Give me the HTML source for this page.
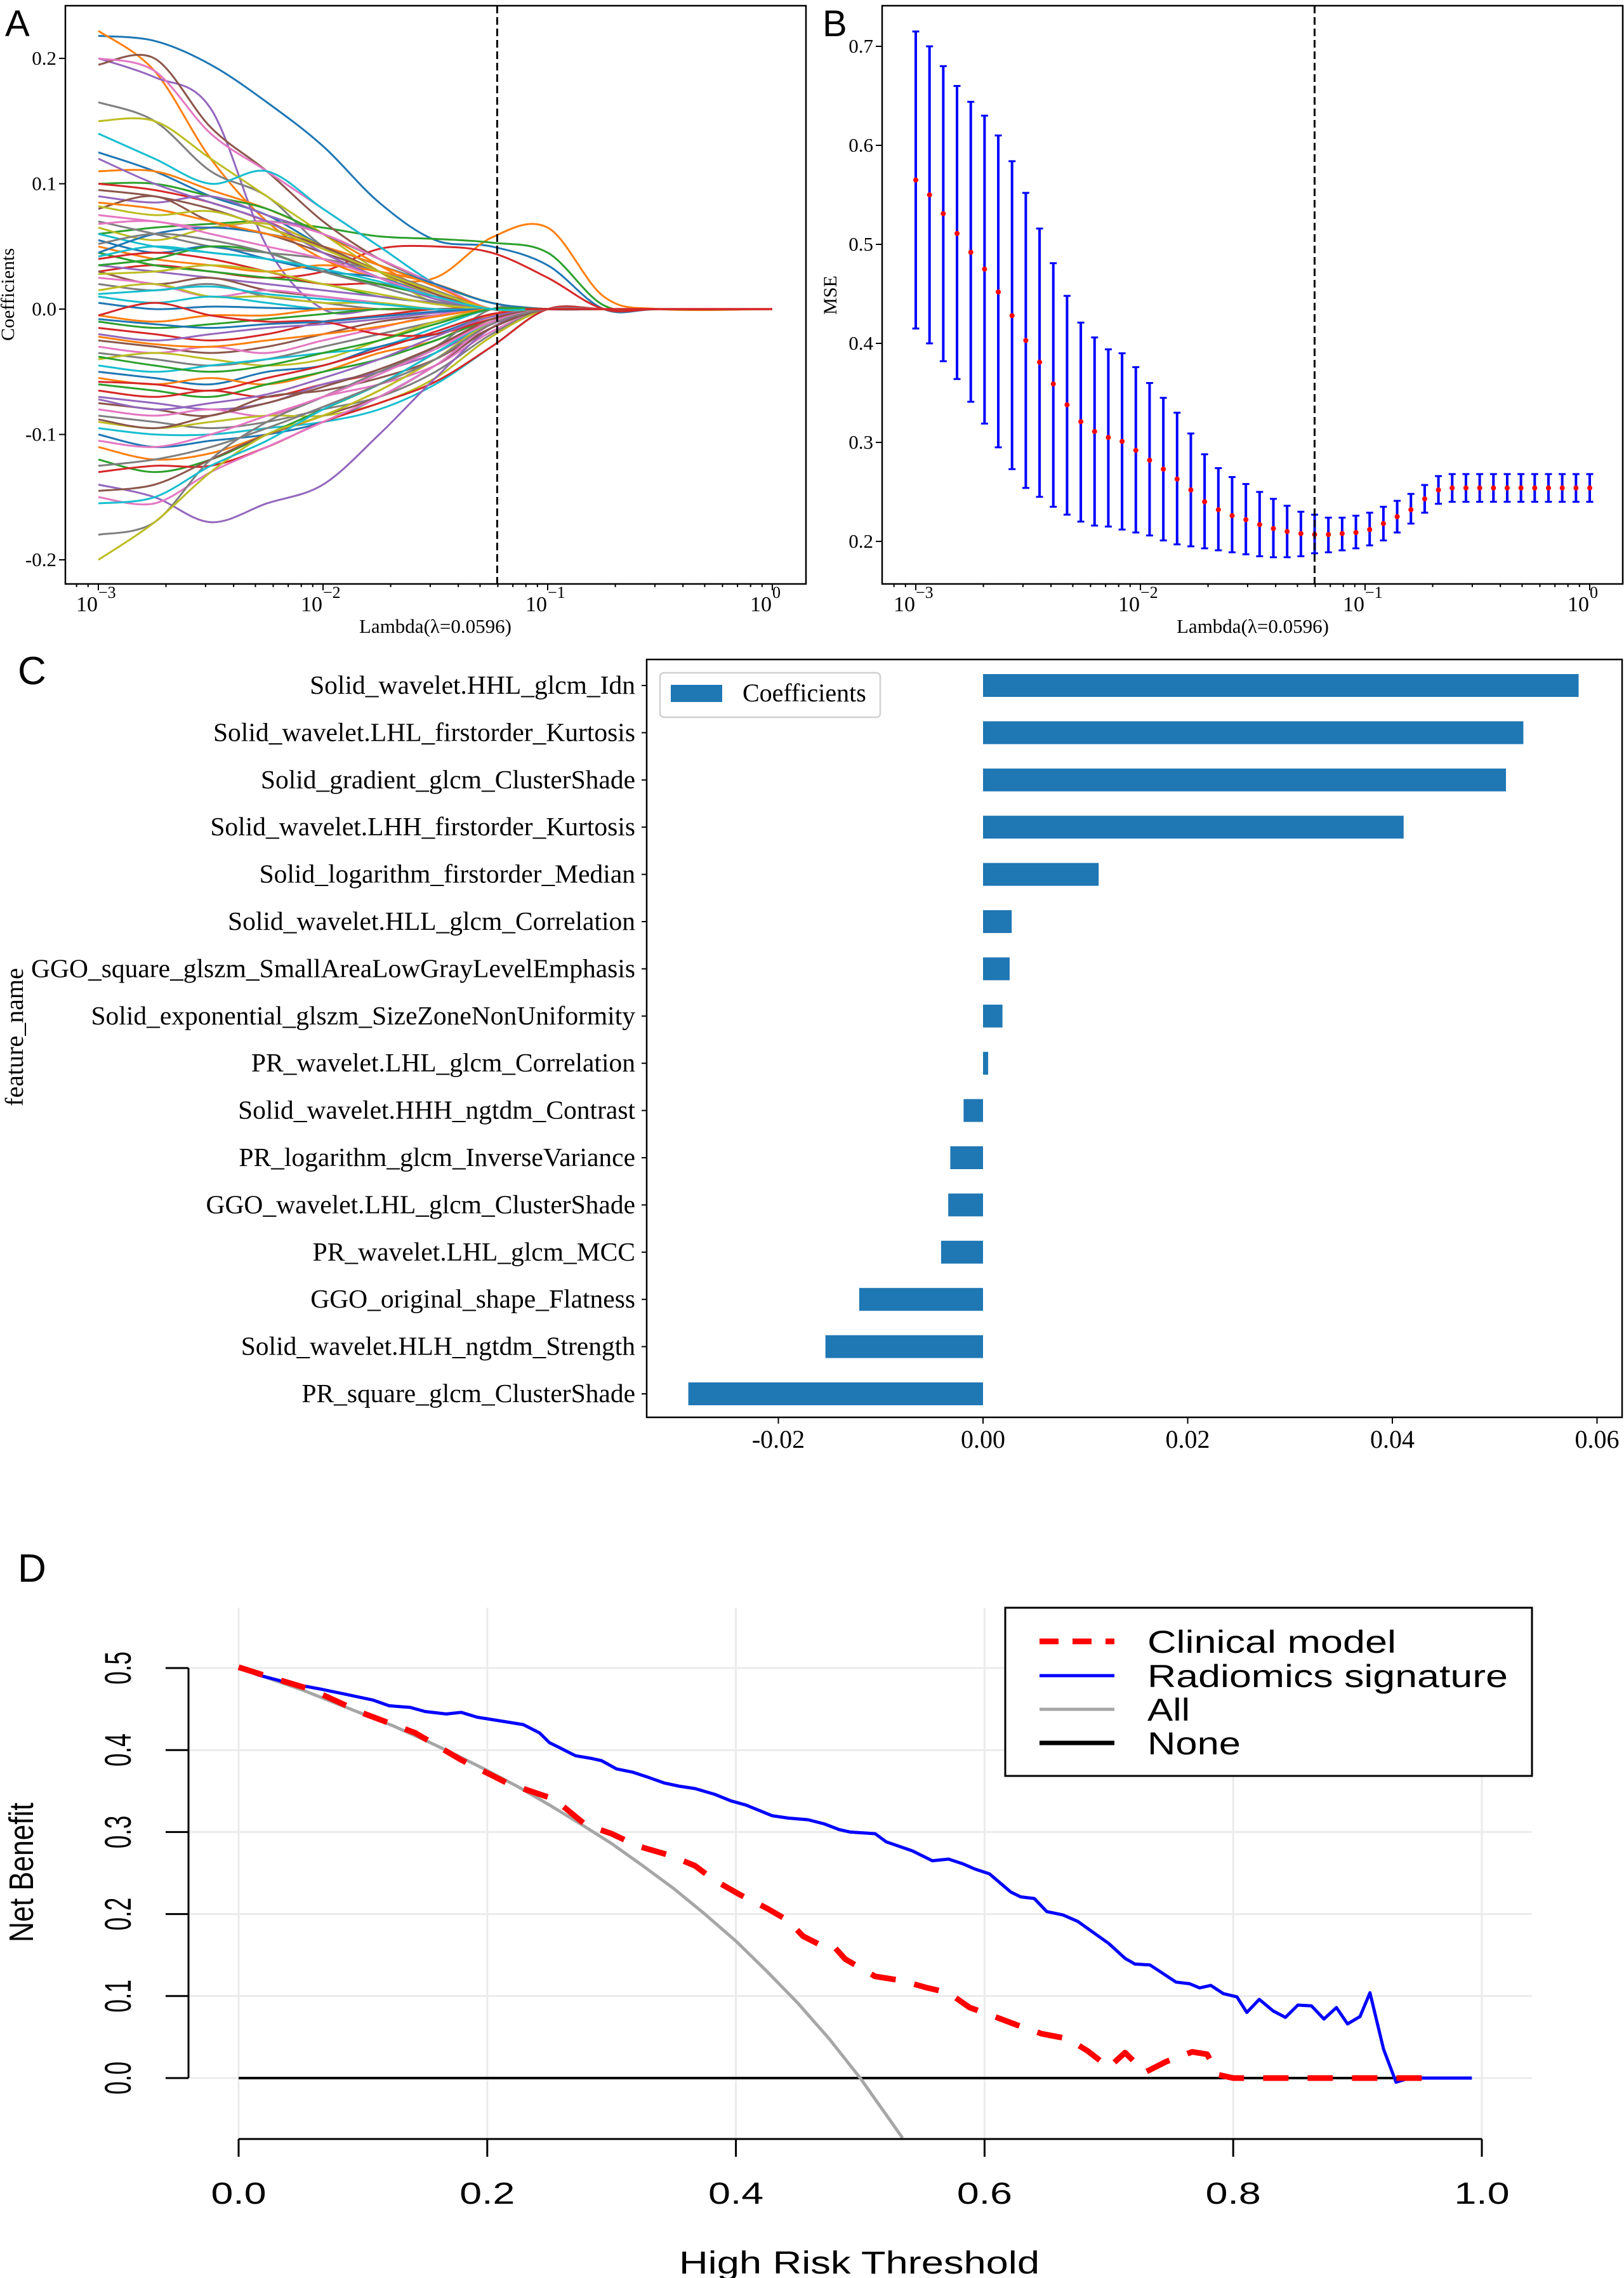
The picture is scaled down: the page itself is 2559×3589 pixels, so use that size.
<!DOCTYPE html>
<html><head><meta charset="utf-8"><style>
html,body{margin:0;padding:0;background:#fff;}
svg{display:block;}
.serif{font-family:"Liberation Serif","Times New Roman",serif;}
.sans{font-family:"Liberation Sans",Arial,sans-serif;}
</style></head>
<body>
<svg id="fig" xmlns="http://www.w3.org/2000/svg" width="2559" height="3589" viewBox="0 0 2559 3589">
<rect x="0" y="0" width="2559" height="3589" fill="#fff"/>
</svg>
<script>
// ---------- Panel A data ----------
const lassoLogLambda=[-3,-2.75,-2.5,-2.25,-2,-1.75,-1.5,-1.25,-1,-0.75,-0.5,0];
const lassoPaths=[
[.218,.214,.195,.165,.13,.085,.055,.05,.035,0],
[.222,.19,.12,.07,.04,.025,.025,.057,.065,.01],
[.06,.065,.068,.07,.065,.058,.056,.053,.045,.003],
[.03,.035,.03,.025,.03,.048,.05,.045,.025,0],
[.2,.185,.16,.05,0,0,0,0,0,0],
[.195,.2,.145,.11,.07,.04,.02,0,0,0],
[.2,.19,.14,.11,.08,.05,.02,0,0,0],
[.165,.15,.11,.09,.05,.03,.01,0,0,0],
[.15,.15,.12,.09,.06,.03,.005,0,0,0],
[.14,.12,.1,.11,.08,.05,.02,0,0,0],
[.125,.11,.09,.075,.05,.03,.01,0,0,0],
[.11,.11,.095,.08,.06,.035,.012,0,0,0],
[.1,.1,.09,.08,.06,.04,.02,.005,0,0],
[.1,.095,.085,.07,.05,.03,.01,0,0,0],
[.09,.085,.09,.075,.06,.04,.02,0,0,0],
[.08,.09,.07,.06,.045,.03,.015,0,0,0],
[.075,.07,.065,.07,.06,.04,.02,0,0,0],
[.07,.06,.05,.045,.04,.03,.015,0,0,0],
[.065,.055,.065,.068,.05,.03,.01,0,0,0],
[.06,.05,.045,.04,.03,.02,.01,0,0,0],
[.055,.045,.05,.04,.03,.025,.01,0,0,0],
[.05,.04,.035,.03,.035,.03,.02,.005,0,0],
[.045,.035,.03,.025,.02,.01,.005,0,0,0],
[.04,.045,.04,.03,.02,.02,.01,0,0,0],
[.035,.03,.025,.02,.015,.01,.005,0,0,0],
[.03,.02,.025,.015,.01,.005,0,0,0,0],
[.025,.02,.01,.015,.01,.005,0,0,0,0],
[.02,.015,.02,.01,.005,0,0,0,0,0],
[.015,.02,.01,.01,.005,.005,0,0,0,0],
[.01,.005,.01,.005,0,0,0,0,0,0],
[.005,0,.002,.001,0,0,0,0,0,0],
[-.005,-.01,-.005,-.005,0,0,0,0,0,0],
[-.01,-.015,-.012,-.008,-.004,0,0,0,0,0],
[-.015,-.02,-.025,-.02,-.01,-.005,0,0,0,0],
[-.02,-.025,-.02,-.015,-.012,-.008,-.003,0,0,0],
[-.025,-.03,-.035,-.03,-.02,-.01,-.005,0,0,0],
[-.03,-.035,-.03,-.035,-.025,-.015,-.005,0,0,0],
[-.035,-.04,-.045,-.04,-.03,-.02,-.01,0,0,0],
[-.04,-.035,-.04,-.045,-.04,-.025,-.01,0,0,0],
[-.045,-.05,-.045,-.04,-.035,-.03,-.015,0,0,0],
[-.05,-.055,-.06,-.05,-.045,-.03,-.02,-.005,0,0],
[-.055,-.06,-.055,-.06,-.05,-.035,-.025,-.005,0,0],
[-.06,-.065,-.07,-.06,-.05,-.04,-.025,-.008,0,0],
[-.065,-.07,-.065,-.07,-.06,-.05,-.03,-.01,0,0],
[-.07,-.075,-.08,-.075,-.06,-.05,-.035,-.012,0,0],
[-.075,-.08,-.085,-.07,-.065,-.055,-.04,-.015,0,0],
[-.08,-.085,-.08,-.085,-.07,-.06,-.045,-.018,0,0],
[-.085,-.09,-.095,-.09,-.08,-.07,-.05,-.02,0,0],
[-.09,-.095,-.09,-.085,-.085,-.075,-.055,-.022,0,0],
[-.095,-.1,-.1,-.095,-.09,-.08,-.06,-.03,0,0],
[-.1,-.11,-.105,-.1,-.09,-.07,-.045,-.015,0,0],
[-.11,-.12,-.115,-.1,-.085,-.065,-.04,-.012,0,0],
[-.12,-.13,-.12,-.1,-.08,-.06,-.035,-.01,0,0],
[-.13,-.125,-.125,-.11,-.09,-.075,-.058,-.03,0,0],
[-.14,-.15,-.17,-.155,-.14,-.1,-.055,-.015,0,0],
[-.145,-.14,-.12,-.1,-.085,-.07,-.045,-.015,0,0],
[-.15,-.155,-.13,-.11,-.09,-.07,-.045,-.012,0,0],
[-.18,-.17,-.12,-.09,-.07,-.05,-.03,0,0,0],
[-.2,-.17,-.13,-.1,-.085,-.065,-.04,-.01,0,0],
[-.155,-.15,-.125,-.105,-.08,-.06,-.035,-.01,0,0],
[.045,.06,.065,.06,.05,.035,.02,.005,0,0],
[.085,.08,.07,.06,.05,.035,.018,0,0,0],
[.035,.04,.05,.045,.03,.02,.01,0,0,0],
[-.005,.005,-.005,-.01,-.01,-.02,-.02,-.008,0,0],
[.12,.1,.085,.07,.045,.025,.008,0,0,0],
[.095,.09,.08,.065,.05,.03,.012,0,0,0],
[.068,.07,.06,.05,.04,.025,.01,0,0,0],
[.052,.06,.055,.045,.03,.018,.006,0,0,0],
[.028,.03,.035,.03,.02,.012,.004,0,0,0],
[.012,.015,.018,.012,.008,.004,0,0,0,0],
[-.008,-.012,-.015,-.012,-.01,-.006,-.002,0,0,0],
[-.022,-.028,-.03,-.025,-.02,-.014,-.006,0,0,0],
[-.038,-.045,-.05,-.045,-.035,-.025,-.012,0,0,0],
[-.058,-.06,-.065,-.055,-.045,-.032,-.018,-.004,0,0],
[-.072,-.08,-.075,-.068,-.055,-.04,-.022,-.006,0,0],
[-.088,-.095,-.085,-.075,-.062,-.048,-.03,-.008,0,0],
[-.105,-.11,-.1,-.085,-.07,-.052,-.032,-.01,0,0],
[-.125,-.12,-.11,-.095,-.078,-.06,-.04,-.012,0,0],
[.082,.075,.078,.065,.048,.03,.014,0,0,0],
[.042,.05,.045,.04,.032,.022,.01,0,0,0]
];
const lassoYTicks=[-0.2,-0.1,0.0,0.1,0.2];
const lassoYTickLabels=["-0.2","-0.1","0.0","0.1","0.2"];
const lambdaExps=[-3,-2,-1,0];
const lambdaExpLabels=["\u22123","\u22122","\u22121","0"];
const bestLambda=0.0596;

// ---------- Panel B data ----------
const mseMean=[0.565,0.55,0.531,0.511,0.492,0.475,0.452,0.428,0.403,0.381,0.359,0.338,0.321,0.311,0.305,0.301,0.292,0.282,0.273,0.263,0.252,0.240,0.232,0.226,0.222,0.217,0.213,0.210,0.208,0.207,0.207,0.208,0.209,0.212,0.218,0.225,0.232,0.243,0.252,0.254,0.254,0.254,0.254,0.254,0.254,0.254,0.254,0.254,0.254,0.254];
const mseUpper=[0.715,0.70,0.68,0.66,0.644,0.63,0.61,0.584,0.552,0.516,0.481,0.448,0.421,0.406,0.394,0.39,0.376,0.36,0.345,0.33,0.309,0.288,0.274,0.265,0.258,0.250,0.243,0.236,0.230,0.227,0.224,0.224,0.226,0.229,0.235,0.241,0.248,0.257,0.266,0.268,0.268,0.268,0.268,0.268,0.268,0.268,0.268,0.268,0.268,0.268];
const mseLower=[0.415,0.40,0.382,0.364,0.341,0.319,0.295,0.273,0.254,0.245,0.235,0.227,0.220,0.216,0.215,0.212,0.209,0.206,0.201,0.197,0.195,0.193,0.191,0.189,0.187,0.185,0.184,0.184,0.185,0.188,0.189,0.191,0.193,0.196,0.201,0.209,0.218,0.229,0.238,0.240,0.240,0.240,0.240,0.240,0.240,0.240,0.240,0.240,0.240,0.240];
const mseYTicks=[0.2,0.3,0.4,0.5,0.6,0.7];
const mseYTickLabels=["0.2","0.3","0.4","0.5","0.6","0.7"];

// ---------- Panel C data ----------
const featureNames=["Solid_wavelet.HHL_glcm_Idn","Solid_wavelet.LHL_firstorder_Kurtosis","Solid_gradient_glcm_ClusterShade","Solid_wavelet.LHH_firstorder_Kurtosis","Solid_logarithm_firstorder_Median","Solid_wavelet.HLL_glcm_Correlation","GGO_square_glszm_SmallAreaLowGrayLevelEmphasis","Solid_exponential_glszm_SizeZoneNonUniformity","PR_wavelet.LHL_glcm_Correlation","Solid_wavelet.HHH_ngtdm_Contrast","PR_logarithm_glcm_InverseVariance","GGO_wavelet.LHL_glcm_ClusterShade","PR_wavelet.LHL_glcm_MCC","GGO_original_shape_Flatness","Solid_wavelet.HLH_ngtdm_Strength","PR_square_glcm_ClusterShade"];
const featureCoefs=[0.0582,0.0528,0.0511,0.0411,0.0113,0.0028,0.0026,0.0019,0.0005,-0.0019,-0.0032,-0.0034,-0.0041,-0.0121,-0.0154,-0.0288];
const coefTicks=[-0.02,0.0,0.02,0.04,0.06];
const coefTickLabels=["-0.02","0.00","0.02","0.04","0.06"];

// ---------- Panel D data ----------
const radT=[0,.017,.042,.067,.083,.108,.121,.138,.15,.167,.179,.192,.229,.242,.25,.258,.271,.283,.292,.304,.317,.329,.342,.354,.367,.383,.396,.408,.429,.442,.458,.471,.483,.492,.512,.521,.542,.558,.571,.583,.592,.604,.621,.629,.64,.65,.663,.675,.7,.713,.721,.733,.742,.754,.765,.773,.782,.792,.803,.811,.821,.832,.842,.852,.863,.873,.883,.892,.902,.91,.921,.931,.942,.992];
const radNB=[.5,.491,.481,.474,.469,.461,.454,.452,.447,.444,.446,.44,.431,.421,.409,.403,.393,.39,.387,.377,.373,.367,.36,.356,.353,.346,.338,.333,.32,.317,.315,.31,.303,.3,.298,.288,.277,.265,.267,.261,.255,.249,.227,.221,.219,.203,.199,.191,.164,.146,.139,.138,.129,.117,.115,.11,.113,.103,.099,.08,.096,.082,.074,.089,.088,.072,.086,.066,.075,.104,.035,-.005,0,0];
const clinT=[0,.025,.058,.1,.142,.179,.217,.254,.279,.3,.321,.346,.367,.383,.404,.425,.442,.454,.471,.479,.488,.512,.533,.554,.571,.588,.608,.629,.646,.667,.683,.7,.713,.729,.746,.767,.779,.788,.8,.967];
const clinNB=[.501,.489,.474,.445,.421,.388,.359,.34,.309,.298,.283,.272,.259,.241,.223,.207,.192,.173,.16,.16,.145,.124,.119,.11,.104,.086,.075,.063,.054,.048,.033,.013,.031,.007,.02,.032,.029,.004,0,0];
const allT=[0,.025,.05,.075,.1,.125,.15,.175,.2,.225,.25,.275,.3,.325,.35,.375,.4,.425,.45,.475,.5,.534];
const allNB=[.5,.487,.474,.459,.444,.429,.412,.394,.375,.355,.333,.31,.286,.259,.231,.2,.167,.13,.091,.048,0,-.073];
const noneT=[0,0.99];
const noneNB=[0,0];
const dXTicks=[0,0.2,0.4,0.6,0.8,1.0];
const dXTickLabels=["0.0","0.2","0.4","0.6","0.8","1.0"];
const dYTicks=[0,0.1,0.2,0.3,0.4,0.5];
const dYTickLabels=["0.0","0.1","0.2","0.3","0.4","0.5"];

// ---------- helpers ----------
const NS='http://www.w3.org/2000/svg';
const svg=document.getElementById('fig');
function mk(tag,attrs,parent){const e=document.createElementNS(NS,tag);for(const k in attrs)e.setAttribute(k,attrs[k]);(parent||svg).appendChild(e);return e;}
function grp(parent){return mk('g',{},parent);}
const tab10=['#1f77b4','#ff7f0e','#2ca02c','#d62728','#9467bd','#8c564b','#e377c2','#7f7f7f','#bcbd22','#17becf'];
function smoothPath(P){
  let d='M'+P[0][0].toFixed(1)+','+P[0][1].toFixed(1);
  for(let i=0;i<P.length-1;i++){
    const p0=P[Math.max(i-1,0)],p1=P[i],p2=P[i+1],p3=P[Math.min(i+2,P.length-1)];
    const c1x=p1[0]+(p2[0]-p0[0])/6,c1y=p1[1]+(p2[1]-p0[1])/6;
    const c2x=p2[0]-(p3[0]-p1[0])/6,c2y=p2[1]-(p3[1]-p1[1])/6;
    d+=' C'+c1x.toFixed(1)+','+c1y.toFixed(1)+' '+c2x.toFixed(1)+','+c2y.toFixed(1)+' '+p2[0].toFixed(1)+','+p2[1].toFixed(1);
  }
  return d;
}

// ---------- Panel A ----------
const xA=l=>155+(l+3)*354;
const yA=v=>487-v*1975;
const gA=grp();


let t=mk('text',{x:8,y:57,'font-size':58,class:'sans'},gA);t.textContent='A';


const clipA=mk('clipPath',{id:'clipA'},gA);mk('rect',{x:103,y:9,width:1167,height:911},clipA);
const linesA=grp(gA);linesA.setAttribute('clip-path','url(#clipA)');
lassoPaths.forEach((vals,i)=>{
  const full=vals.concat([0,0]);
  const P=full.map((v,j)=>[xA(lassoLogLambda[j]),yA(v)]);
  const pl=mk('path',{d:smoothPath(P),fill:'none',stroke:tab10[i%10],'stroke-width':3,'stroke-linejoin':'round'},linesA);
  
  
});
const zeroA=mk('line',{x1:xA(-1.1),x2:xA(0),y1:yA(0),y2:yA(0),stroke:'#d62728','stroke-width':3.5},linesA);


const dashA=mk('line',{x1:xA(Math.log10(bestLambda)),x2:xA(Math.log10(bestLambda)),y1:9,y2:920,stroke:'#000','stroke-width':3,'stroke-dasharray':'12,6'},gA);


const frA=mk('rect',{x:103,y:9,width:1167,height:911,fill:'none',stroke:'#000','stroke-width':2.5},gA);


function logTicks(g,xf,y0,lo,hi,exps,labs,xl){
  for(let d=-4;d<=0;d++){for(let m=1;m<10;m++){const lv=d+Math.log10(m);const x=xf(lv);if(x<lo||x>hi)continue;
    const major=m===1;mk('line',{x1:x,x2:x,y1:y0,y2:y0+(major?10:5),stroke:'#000','stroke-width':2},g);}}
  exps.forEach((e,i)=>{const x=xf(e);
    const tx=mk('text',{x:x-1,y:963,'font-size':34,'text-anchor':'end',class:'serif'},g);tx.textContent='10';
    
    
    const sp=mk('text',{x:x,y:942,'font-size':26,class:'serif'},g);sp.textContent=labs[i];
    
    
  });
  const xlab=mk('text',{x:xl,y:997,'font-size':31,'text-anchor':'middle',class:'serif'},g);xlab.textContent='Lambda(\u03bb=0.0596)';
  
  
}
logTicks(gA,xA,920,103,1270,lambdaExps,lambdaExpLabels,686);
lassoYTicks.forEach((v,i)=>{const y=yA(v);
  mk('line',{x1:93,x2:103,y1:y,y2:y,stroke:'#000','stroke-width':2},gA);
  const tl=mk('text',{x:89,y:y+10,'font-size':31,'text-anchor':'end',class:'serif'},gA);tl.textContent=lassoYTickLabels[i];
  
  
});
t=mk('text',{x:0,y:0,'font-size':30,'text-anchor':'middle',class:'serif',transform:'translate(22,464) rotate(-90)'},gA);t.textContent='Coefficients';



// ---------- Panel B ----------
const xB=l=>1443+(l+3)*354;
const yB=v=>853-(v-0.2)*1560;
const gB=grp();


t=mk('text',{x:1296,y:57,'font-size':58,class:'sans'},gB);t.textContent='B';


mseMean.forEach((m,i)=>{
  const lv=-3+3*i/(mseMean.length-1);const x=xB(lv);
  const eb=grp(gB);
  
  
  mk('line',{x1:x,x2:x,y1:yB(mseUpper[i]),y2:yB(mseLower[i]),stroke:'#0000ff','stroke-width':4},eb);
  mk('line',{x1:x-5.5,x2:x+5.5,y1:yB(mseUpper[i]),y2:yB(mseUpper[i]),stroke:'#0000ff','stroke-width':3},eb);
  mk('line',{x1:x-5.5,x2:x+5.5,y1:yB(mseLower[i]),y2:yB(mseLower[i]),stroke:'#0000ff','stroke-width':3},eb);
  const c=mk('circle',{cx:x,cy:yB(m),r:4,fill:'#ff0000'},gB);
  
  
});
const dashB=mk('line',{x1:xB(Math.log10(bestLambda)),x2:xB(Math.log10(bestLambda)),y1:9,y2:920,stroke:'#000','stroke-width':3,'stroke-dasharray':'12,6'},gB);


const frB=mk('rect',{x:1390,y:9,width:1167,height:911,fill:'none',stroke:'#000','stroke-width':2.5},gB);


logTicks(gB,xB,920,1390,2557,lambdaExps,lambdaExpLabels,1974);
mseYTicks.forEach((v,i)=>{const y=yB(v);
  mk('line',{x1:1380,x2:1390,y1:y,y2:y,stroke:'#000','stroke-width':2},gB);
  const tl=mk('text',{x:1376,y:y+10,'font-size':31,'text-anchor':'end',class:'serif'},gB);tl.textContent=mseYTickLabels[i];
  
  
});
t=mk('text',{x:0,y:0,'font-size':30,'text-anchor':'middle',class:'serif',transform:'translate(1318,465) rotate(-90)'},gB);t.textContent='MSE';



// ---------- Panel C ----------
const xC=v=>1549+v*16125;
const yC=i=>1080+i*74.4;
const gC=grp();


t=mk('text',{x:28,y:1078,'font-size':62,class:'sans'},gC);t.textContent='C';


featureCoefs.forEach((v,i)=>{
  const x0=Math.min(xC(0),xC(v)),w=Math.abs(xC(v)-xC(0));
  const b=mk('rect',{x:x0,y:yC(i)-18,width:Math.max(w,1),height:36,fill:'#1f77b4'},gC);
  
  
  mk('line',{x1:1011,x2:1019,y1:yC(i),y2:yC(i),stroke:'#000','stroke-width':2},gC);
  const lb=mk('text',{x:1001,y:yC(i)+13,'font-size':41.5,'text-anchor':'end',class:'serif'},gC);lb.textContent=featureNames[i];
  
  
});
const frC=mk('rect',{x:1019,y:1039,width:1537,height:1194,fill:'none',stroke:'#000','stroke-width':2.5},gC);


coefTicks.forEach((v,i)=>{const x=xC(v);
  mk('line',{x1:x,x2:x,y1:2233,y2:2243,stroke:'#000','stroke-width':2},gC);
  const tl=mk('text',{x:x,y:2281,'font-size':40,'text-anchor':'middle',class:'serif'},gC);tl.textContent=coefTickLabels[i];
  
  
});
t=mk('text',{x:0,y:0,'font-size':40,'text-anchor':'middle',class:'serif',transform:'translate(36,1634) rotate(-90)'},gC);t.textContent='feature_name';


const legC=grp(gC);


mk('rect',{x:1040,y:1060,width:347,height:70,rx:6,fill:'#fff',stroke:'#d0d0d0','stroke-width':2.5},legC);
mk('rect',{x:1057,y:1079,width:81,height:27,fill:'#1f77b4'},legC);
t=mk('text',{x:1170,y:1105,'font-size':40,class:'serif'},legC);t.textContent='Coefficients';



// ---------- Panel D ----------
const xD=v=>376+v*1959;
const yD=v=>3274-v*1292;
const gD=grp();


t=mk('text',{x:28,y:2492,'font-size':62,class:'sans'},gD);t.textContent='D';


dXTicks.forEach(v=>{mk('line',{x1:xD(v),x2:xD(v),y1:2533,y2:3370,stroke:'#ebebeb','stroke-width':3},gD);});
dYTicks.forEach(v=>{mk('line',{x1:297,x2:2414,y1:yD(v),y2:yD(v),stroke:'#ebebeb','stroke-width':3},gD);});
const clipD=mk('clipPath',{id:'clipD'},gD);mk('rect',{x:297,y:2533,width:2117,height:837},clipD);
const linesD=grp(gD);linesD.setAttribute('clip-path','url(#clipD)');
function curve(ts,vs,attrs,name){
  const pts=ts.map((x,i)=>xD(x).toFixed(1)+','+yD(vs[i]).toFixed(1)).join(' ');
  const a=Object.assign({points:pts,fill:'none','stroke-linejoin':'round'},attrs);
  const pl=mk('polyline',a,linesD);
  
  
}
curve(noneT,noneNB,{stroke:'#000','stroke-width':4},'none-line');
curve(allT,allNB,{stroke:'#a6a6a6','stroke-width':5},'all-line');
curve(radT,radNB,{stroke:'#0000ff','stroke-width':5},'radiomics-signature-line');
curve(clinT,clinNB,{stroke:'#ff0000','stroke-width':9,'stroke-dasharray':'40,30'},'clinical-model-line');
const axY=mk('line',{x1:297,x2:297,y1:yD(0.5),y2:yD(0),stroke:'#000','stroke-width':3},gD);


dYTicks.forEach((v,i)=>{const y=yD(v);
  mk('line',{x1:261,x2:297,y1:y,y2:y,stroke:'#000','stroke-width':3},gD);
  const tl=mk('text',{x:0,y:0,'font-size':58,'text-anchor':'middle',textLength:52,lengthAdjust:'spacingAndGlyphs',class:'sans',transform:'translate(206,'+y+') rotate(-90)'},gD);tl.textContent=dYTickLabels[i];
  
  
});
const axX=mk('line',{x1:xD(0),x2:xD(1),y1:3370,y2:3370,stroke:'#000','stroke-width':3},gD);


dXTicks.forEach((v,i)=>{const x=xD(v);
  mk('line',{x1:x,x2:x,y1:3370,y2:3398,stroke:'#000','stroke-width':3},gD);
  const tl=mk('text',{x:x,y:3472,'font-size':48,'text-anchor':'middle',textLength:87,lengthAdjust:'spacingAndGlyphs',class:'sans'},gD);tl.textContent=dXTickLabels[i];
  
  
});
t=mk('text',{x:0,y:0,'font-size':54,'text-anchor':'middle',textLength:220,lengthAdjust:'spacingAndGlyphs',class:'sans',transform:'translate(52,2950) rotate(-90)'},gD);t.textContent='Net Benefit';


t=mk('text',{x:1354,y:3582,'font-size':50,'text-anchor':'middle',textLength:568,lengthAdjust:'spacingAndGlyphs',class:'sans'},gD);t.textContent='High Risk Threshold';


const legD=grp(gD);


mk('rect',{x:1584,y:2533,width:830,height:265,fill:'#fff',stroke:'#000','stroke-width':3},legD);
const legItems=[['Clinical model','#ff0000',9,'30,22',392],['Radiomics signature','#0000ff',5,'',568],['All','#a6a6a6',5,'',67],['None','#000',7,'',147]];
const legY=[2586,2640,2693,2746];
legItems.forEach((it,i)=>{
  const a={x1:1638,x2:1756,y1:legY[i],y2:legY[i],stroke:it[1],'stroke-width':it[2]};
  if(it[3])a['stroke-dasharray']=it[3];
  mk('line',a,legD);
  const lt=mk('text',{x:1808,y:legY[i]+18,'font-size':50,textLength:it[4],lengthAdjust:'spacingAndGlyphs',class:'sans'},legD);lt.textContent=it[0];
  
  
});
</script>
</body></html>
